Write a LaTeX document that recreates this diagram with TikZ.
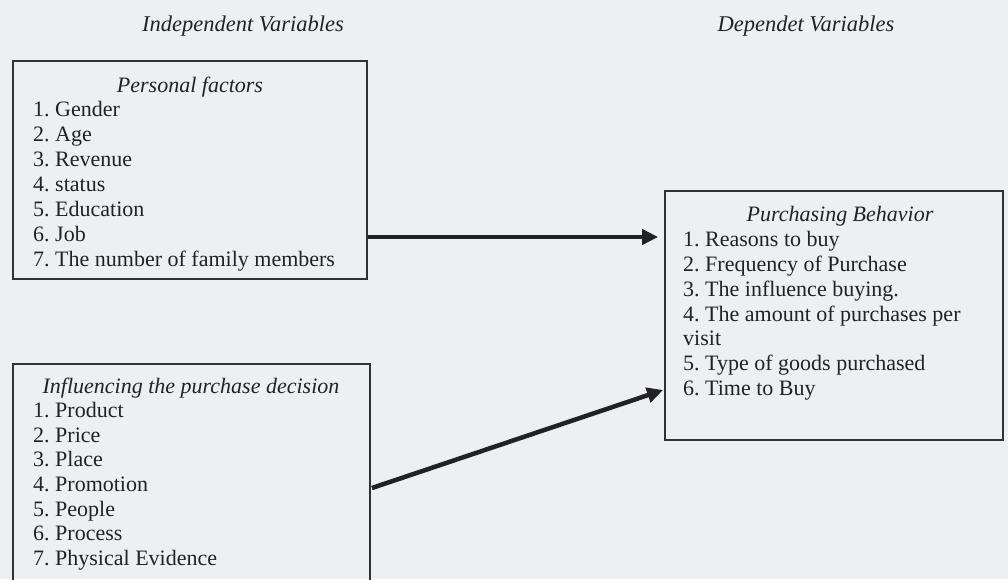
\documentclass[tikz,border=0pt]{standalone}
\usepackage{fontspec}
\setmainfont{Liberation Serif}
\usetikzlibrary{arrows.meta,calc}
\definecolor{bgc}{RGB}{238,239,241}
\definecolor{inkc}{RGB}{34,34,36}
\definecolor{linec}{RGB}{50,50,52}
\frenchspacing
\begin{document}
\begin{tikzpicture}[x=1pt,y=-1pt,
  txt/.style={inner sep=0pt,anchor=base west,text=inkc,font=\fontsize{22}{25}\selectfont},
  ttl/.style={inner sep=0pt,anchor=base,text=inkc,font=\fontsize{22}{25}\selectfont\itshape},
  hdr/.style={inner sep=0pt,anchor=base,text=inkc,font=\fontsize{22.5}{25}\selectfont\itshape},
  boxnode/.style={draw=linec,line width=1.8pt,inner sep=0pt,rectangle},
  link/.style={draw=inkc,line width=4.5pt,-{Triangle[length=16pt,width=15pt]}}]
\fill[bgc] (0,0) rectangle (1008,579);
\useasboundingbox (0,0) rectangle (1008,579);
% headings
\node[hdr] (hind) at (243,31) {Independent Variables};
\node[hdr] (hdep) at (806,31) {Dependet Variables};
% boxes
\node[boxnode,minimum width=354pt,minimum height=218pt] (pf) at (190,170) {};
\node[boxnode,minimum width=357pt,minimum height=226pt] (ip) at (191.5,477) {};
\node[boxnode,minimum width=338pt,minimum height=249pt] (pb) at (834,315.5) {};
% box 1 text
\node[ttl] (t1) at (190,92) {Personal factors};
\node[txt] (a1) at (33,116) {1. Gender};
\node[txt] (a2) at (33,141) {2. Age};
\node[txt] (a3) at (33,166) {3. Revenue};
\node[txt] (a4) at (33,191) {4. status};
\node[txt] (a5) at (33,216) {5. Education};
\node[txt] (a6) at (33,241) {6. Job};
\node[txt] (a7) at (33,266) {7. The number of family members};
% box 2 text
\node[ttl] (t2) at (191,393) {Influencing the purchase decision};
\node[txt] (b1) at (33,417) {1. Product};
\node[txt] (b2) at (33,442) {2. Price};
\node[txt] (b3) at (33,466) {3. Place};
\node[txt] (b4) at (33,491) {4. Promotion};
\node[txt] (b5) at (33,516) {5. People};
\node[txt] (b6) at (33,540) {6. Process};
\node[txt] (b7) at (33,565) {7. Physical Evidence};
% box 3 text
\node[ttl] (t3) at (840,221) {Purchasing Behavior};
\node[txt] (c1) at (683,246) {1. Reasons to buy};
\node[txt] (c2) at (683,271) {2. Frequency of Purchase};
\node[txt] (c3) at (683,296) {3. The influence buying.};
\node[txt] (c4) at (683,321) {4. The amount of purchases per};
\node[txt] (c4b) at (683,345) {visit};
\node[txt] (c5) at (683,370) {5. Type of goods purchased};
\node[txt] (c6) at (683,395) {6. Time to Buy};
% connectors
\draw[link] ([yshift=-67pt]pf.east) -- ([xshift=-6pt,yshift=78.5pt]pb.west);
\draw[link] ([xshift=1pt,yshift=-11pt]ip.east) -- ([xshift=-1pt,yshift=-74.5pt]pb.west);
\end{tikzpicture}
\end{document}
